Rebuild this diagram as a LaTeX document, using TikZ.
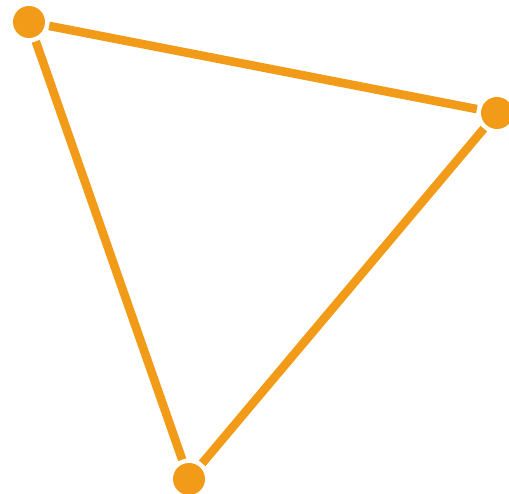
\documentclass[tikz,border=0pt]{standalone}
\definecolor{vertexorange}{RGB}{242,155,25}

\begin{document}
\begin{tikzpicture}[x=1pt,y=-1pt,line cap=butt,line join=round,
        vertex/.style={circle,fill=vertexorange,minimum size=32pt,inner sep=0pt,outer sep=4.5pt},
        edge/.style={vertexorange,line width=8.6pt}]
        \useasboundingbox (0,0) rectangle (509,494);
        \clip (0,0) rectangle (509,494);

        \node[vertex] (a) at (29,22) {};
        \node[vertex] (b) at (497,113) {};
        \node[vertex] (c) at (189,479) {};

        \foreach \u/\v in {a/b,b/c,c/a} {
            \draw[edge] (\u) -- (\v);
        }
    \end{tikzpicture}
\end{document}
